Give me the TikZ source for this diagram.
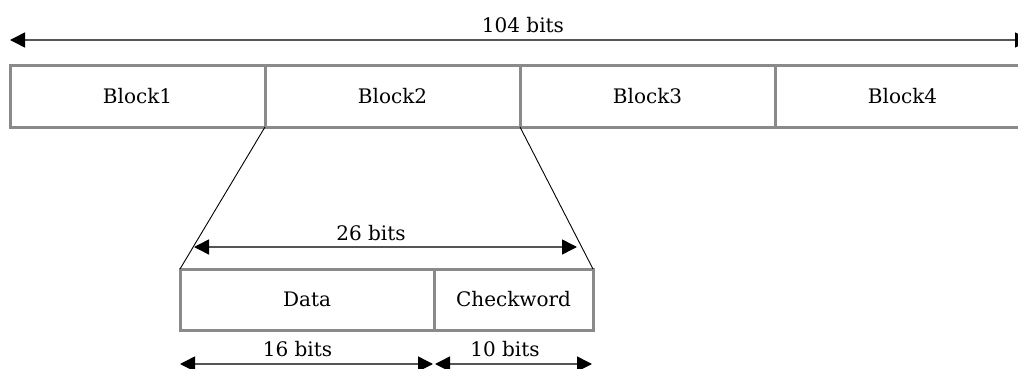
\documentclass[tikz,border=0pt]{standalone}
\usepackage{fontspec}
\setmainfont{DejaVu Serif}
\usetikzlibrary{arrows.meta}
\definecolor{boxgray}{HTML}{8A8A8A}
\definecolor{arrgray}{HTML}{555555}
\begin{document}
\begin{tikzpicture}[x=1pt,y=-1pt,
  field/.style={draw=boxgray,line width=3pt,minimum height=61pt,inner sep=0pt,outer sep=0pt,
    font=\fontsize{20}{24}\selectfont},
  lbl/.style={font=\fontsize{20}{24}\selectfont,inner sep=0pt},
  dim/.style={draw=arrgray,line width=1.5pt,
    {Triangle[length=15pt,width=15pt,color=black]}-{Triangle[length=15pt,width=15pt,color=black]}},
  slant/.style={draw=black,line width=0.9pt}]
\useasboundingbox (0,0) rectangle (1018,369);
% top row
\node[field,minimum width=255pt] (b1) at (137.5,96.5) {Block1};
\node[field,minimum width=255pt] (b2) at (392.5,96.5) {Block2};
\node[field,minimum width=255pt] (b3) at (647.5,96.5) {Block3};
\node[field,minimum width=255pt] (b4) at (902.5,96.5) {Block4};
% bottom row
\node[field,minimum width=254pt] (data) at (307,299.5) {Data};
\node[field,minimum width=159pt] (check) at (513.5,299.5) {Checkword};
% slanted lines
\draw[slant] (b2.south west) -- (data.north west);
\draw[slant] (b2.south east) -- (check.north east);
% dimension arrows
\coordinate (t1) at (10,40);
\coordinate (t2) at (1030,40);
\draw[dim] (t1) -- (t2);
\node[lbl] (l104) at (523,25) {104 bits};
\coordinate (m1) at (194,247);
\coordinate (m2) at (577,247);
\draw[dim] (m1) -- (m2);
\node[lbl] (l26) at (371,233) {26 bits};
\coordinate (d1) at (180,364);
\coordinate (d2) at (433,364);
\coordinate (c1) at (435,364);
\coordinate (c2) at (592,364);
\draw[dim] (d1) -- (d2);
\draw[dim] (c1) -- (c2);
\node[lbl] (l16) at (297.5,349.5) {16 bits};
\node[lbl] (l10) at (505,349.5) {10 bits};
\end{tikzpicture}
\end{document}
